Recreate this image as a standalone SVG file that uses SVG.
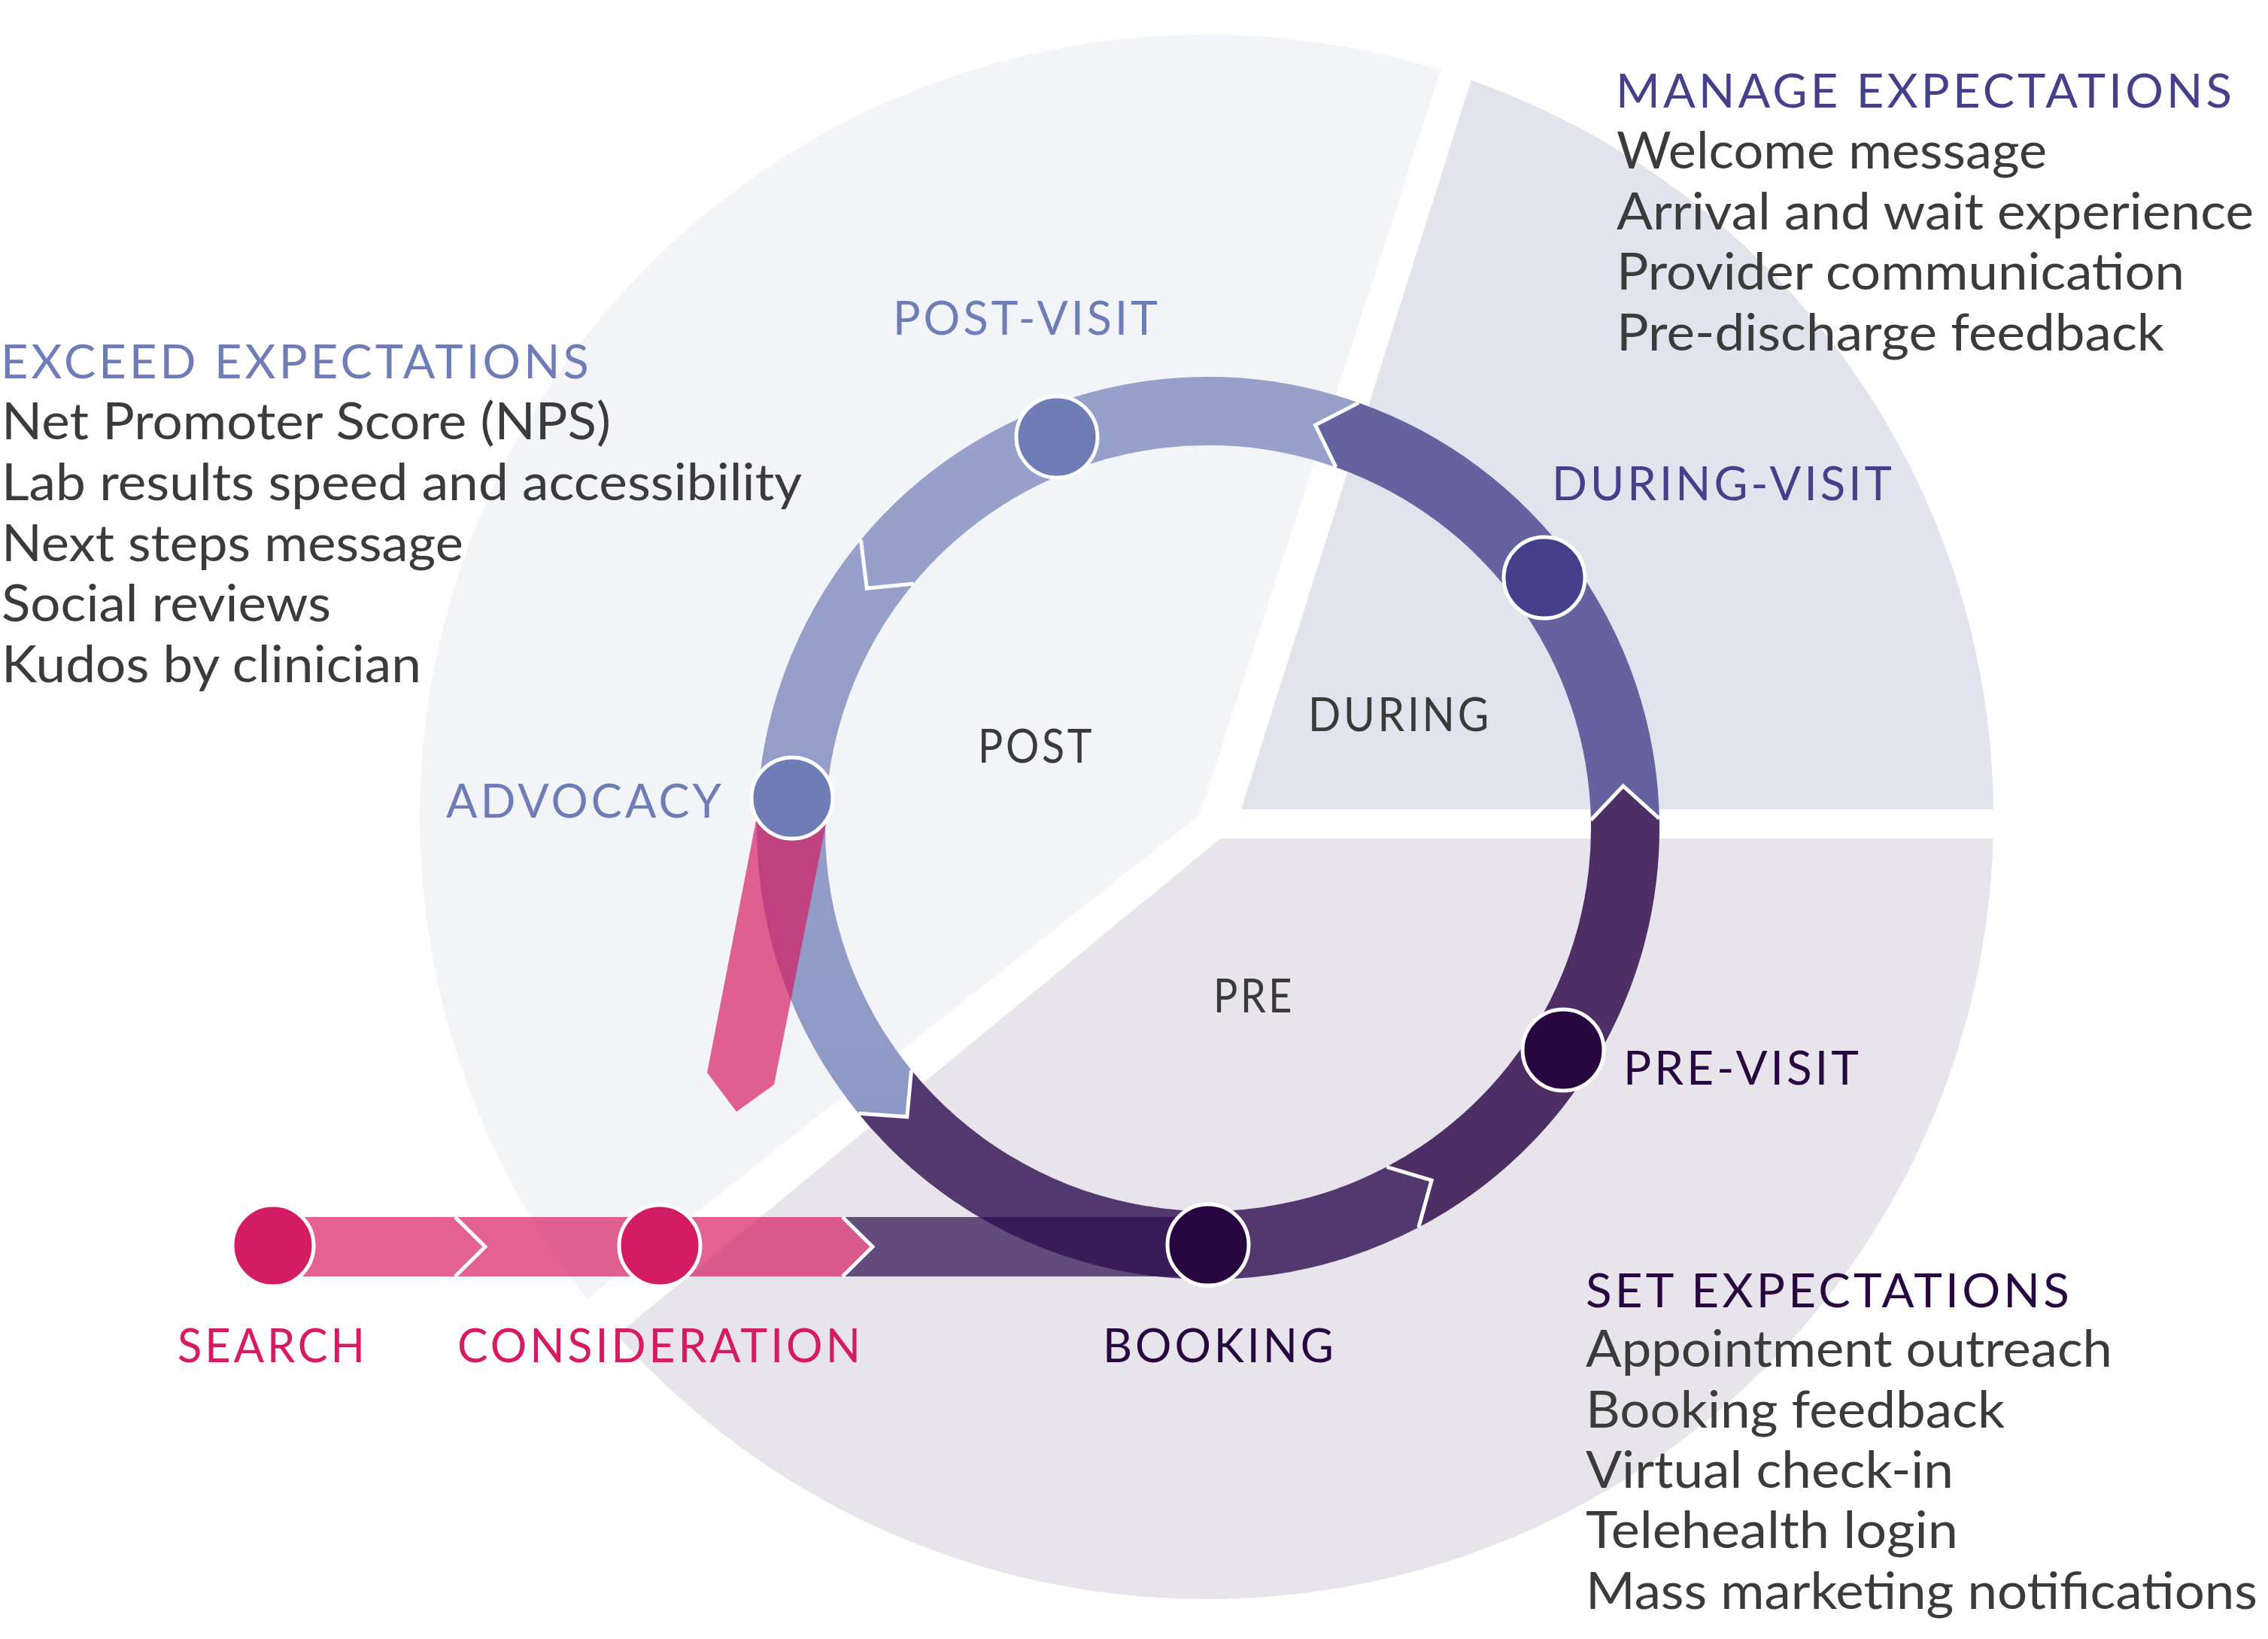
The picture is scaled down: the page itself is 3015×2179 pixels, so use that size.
<svg xmlns="http://www.w3.org/2000/svg" width="3015" height="2179" viewBox="0 0 3015 2179">
<defs>
<style>
.body{font-family:Lato,"Liberation Sans",sans-serif;font-size:67px;fill:#3b3b3b}
.lbl{font-family:Lato,"Liberation Sans",sans-serif;font-size:61px;letter-spacing:4px}
.c-post{fill:#6f7db7}
.c-during{fill:#463f8a}
.c-pre{fill:#280640}
.c-pink{fill:#d41c64}
.c-grey{fill:#3a3a3a}
.dot{stroke:#ffffff;stroke-width:5}
.head{fill:none;stroke:#ffffff;stroke-width:5;stroke-linejoin:miter}
.pinkband{fill:#d6185f;fill-opacity:0.68}
.purpleband{fill:#2f1051;fill-opacity:0.72}
</style>
<clipPath id="bigclip">
<ellipse cx="1604" cy="1086" rx="1046" ry="1040"/>
</clipPath>
<linearGradient id="advgrad" x1="0" y1="0" x2="0" y2="1">
<stop offset="0" stop-color="#97a0c9"/>
<stop offset="1" stop-color="#8e9ac6"/>
</linearGradient>
</defs>
<rect width="3015" height="2179" fill="#ffffff"/>

<g id="sectors" clip-path="url(#bigclip)">
<polygon id="sector-post" points="1595,1083 1962,-50 -50,-50 -50,2383" fill="#f3f4f8"/>
<polygon id="sector-during" points="1650,1076 2005,-50 3100,-50 3100,1076" fill="#e1e4ec"/>
<polygon id="sector-pre" points="1622,1115 3100,1115 3100,2600 -100,2600 -100,2532" fill="#e7e5eb"/>
</g>

<g id="sector-labels" class="lbl c-grey">
<text x="1300" y="1014" textLength="155" lengthAdjust="spacingAndGlyphs">POST</text>
<text x="1739" y="972" textLength="244" lengthAdjust="spacingAndGlyphs">DURING</text>
<text x="1613" y="1346" textLength="108" lengthAdjust="spacingAndGlyphs">PRE</text>
</g>

<g id="connectors">
<path id="seg-booking" fill="#52386f" d="M1141.1,1480.2 A600,600 0 0 0 1885.8,1631.8 L1903.1,1569.2 L1843.4,1551.3 A509,509 0 0 1 1211.6,1422.7 L1205.8,1484.8 Z"/>
<path id="seg-pre" fill="#4d2f66" d="M1885.8,1631.8 A600,600 0 0 0 2205.9,1088.4 L2157.7,1045.0 L2114.9,1090.3 A509,509 0 0 1 1843.4,1551.3 L1903.1,1569.2 Z"/>
<path id="seg-during" fill="#6562a0" d="M2205.9,1088.4 A600,600 0 0 0 1806.3,535.4 L1748.6,565.1 L1775.9,621.2 A509,509 0 0 1 2114.9,1090.3 L2157.7,1045.0 Z"/>
<path id="seg-post" fill="#97a0c9" d="M1806.3,535.4 A600,600 0 0 0 1144.4,717.7 L1152.3,782.2 L1214.4,775.9 A509,509 0 0 1 1775.9,621.2 L1748.6,565.1 Z"/>
<path id="seg-advocacy" fill="url(#advgrad)" d="M1144.4,717.7 A600,600 0 0 0 1141.1,1480.2 L1205.8,1484.8 L1211.6,1422.7 A509,509 0 0 1 1214.4,775.9 L1152.3,782.2 Z"/>
<polyline class="head" points="1141.1,1480.2 1205.8,1484.8 1211.6,1422.7"/>
<polyline class="head" points="1885.8,1631.8 1903.1,1569.2 1843.4,1551.3"/>
<polyline class="head" points="2205.9,1088.4 2157.7,1045.0 2114.9,1090.3"/>
<polyline class="head" points="1806.3,535.4 1748.6,565.1 1775.9,621.2"/>
<polyline class="head" points="1144.4,717.7 1152.3,782.2 1214.4,775.9"/>

<polygon id="advocacy-arrow" class="pinkband" points="1013,1050 1105,1060 1029,1442 979,1478 940,1426"/>

<polygon id="bar-search" class="pinkband" points="363,1618 605,1618 645,1657.5 605,1697 363,1697"/>
<polygon id="bar-consideration" class="pinkband" points="605,1618 1120,1618 1160,1657.5 1120,1697 605,1697 645,1657.5"/>
<polygon id="bar-booking" class="purpleband" points="1120,1618 1606,1618 1606,1697 1120,1697 1160,1657.5"/>
<polyline class="head" points="605,1618 645,1657.5 605,1697"/>
<polyline class="head" points="1120,1618 1160,1657.5 1120,1697"/>
</g>

<g id="node-search">
<circle class="dot c-pink" cx="363" cy="1656" r="54"/>
<text class="lbl c-pink" x="236" y="1811" textLength="253" lengthAdjust="spacingAndGlyphs">SEARCH</text>
</g>
<g id="node-consideration">
<circle class="dot c-pink" cx="877" cy="1656" r="54"/>
<text class="lbl c-pink" x="608" y="1811" textLength="540" lengthAdjust="spacingAndGlyphs">CONSIDERATION</text>
</g>
<g id="node-booking">
<circle class="dot c-pre" cx="1606" cy="1655" r="54"/>
<text class="lbl c-pre" x="1466" y="1811" textLength="311" lengthAdjust="spacingAndGlyphs">BOOKING</text>
</g>
<g id="node-previsit">
<circle class="dot c-pre" cx="2078" cy="1396" r="54"/>
<text class="lbl c-pre" x="2158" y="1442" textLength="317" lengthAdjust="spacingAndGlyphs">PRE-VISIT</text>
</g>
<g id="node-duringvisit">
<circle class="dot c-during" cx="2053" cy="768" r="54"/>
<text class="lbl c-during" x="2063" y="665" textLength="456" lengthAdjust="spacingAndGlyphs">DURING-VISIT</text>
</g>
<g id="node-postvisit">
<circle class="dot c-post" cx="1405" cy="581" r="54"/>
<text class="lbl c-post" x="1187" y="445" textLength="356" lengthAdjust="spacingAndGlyphs">POST-VISIT</text>
</g>
<g id="node-advocacy">
<circle class="dot c-post" cx="1053" cy="1061" r="54"/>
<text class="lbl c-post" x="593" y="1087" textLength="370" lengthAdjust="spacingAndGlyphs">ADVOCACY</text>
</g>

<g id="block-manage">
<text class="lbl c-during" x="2148" y="143" textLength="823" lengthAdjust="spacingAndGlyphs">MANAGE EXPECTATIONS</text>
<text class="body" x="2149" y="224" textLength="572" lengthAdjust="spacingAndGlyphs">Welcome message</text>
<text class="body" x="2149" y="305" textLength="847" lengthAdjust="spacingAndGlyphs">Arrival and wait experience</text>
<text class="body" x="2149" y="385" textLength="755" lengthAdjust="spacingAndGlyphs">Provider communication</text>
<text class="body" x="2149" y="466" textLength="728" lengthAdjust="spacingAndGlyphs">Pre-discharge feedback</text>
</g>

<g id="block-exceed">
<text class="lbl c-post" x="1" y="503" textLength="786" lengthAdjust="spacingAndGlyphs">EXCEED EXPECTATIONS</text>
<text class="body" x="2" y="584" textLength="810" lengthAdjust="spacingAndGlyphs">Net Promoter Score (NPS)</text>
<text class="body" x="2" y="665" textLength="1064" lengthAdjust="spacingAndGlyphs">Lab results speed and accessibility</text>
<text class="body" x="2" y="746" textLength="614" lengthAdjust="spacingAndGlyphs">Next steps message</text>
<text class="body" x="2" y="826" textLength="438" lengthAdjust="spacingAndGlyphs">Social reviews</text>
<text class="body" x="2" y="907" textLength="558" lengthAdjust="spacingAndGlyphs">Kudos by clinician</text>
</g>

<g id="block-set">
<text class="lbl c-pre" x="2108" y="1738" textLength="647" lengthAdjust="spacingAndGlyphs">SET EXPECTATIONS</text>
<text class="body" x="2108" y="1817" textLength="700" lengthAdjust="spacingAndGlyphs">Appointment outreach</text>
<text class="body" x="2108" y="1898" textLength="557" lengthAdjust="spacingAndGlyphs">Booking feedback</text>
<text class="body" x="2108" y="1978" textLength="489" lengthAdjust="spacingAndGlyphs">Virtual check-in</text>
<text class="body" x="2108" y="2058" textLength="495" lengthAdjust="spacingAndGlyphs">Telehealth login</text>
<text class="body" x="2108" y="2139" textLength="893" lengthAdjust="spacingAndGlyphs">Mass marketing notifications</text>
</g>
</svg>
